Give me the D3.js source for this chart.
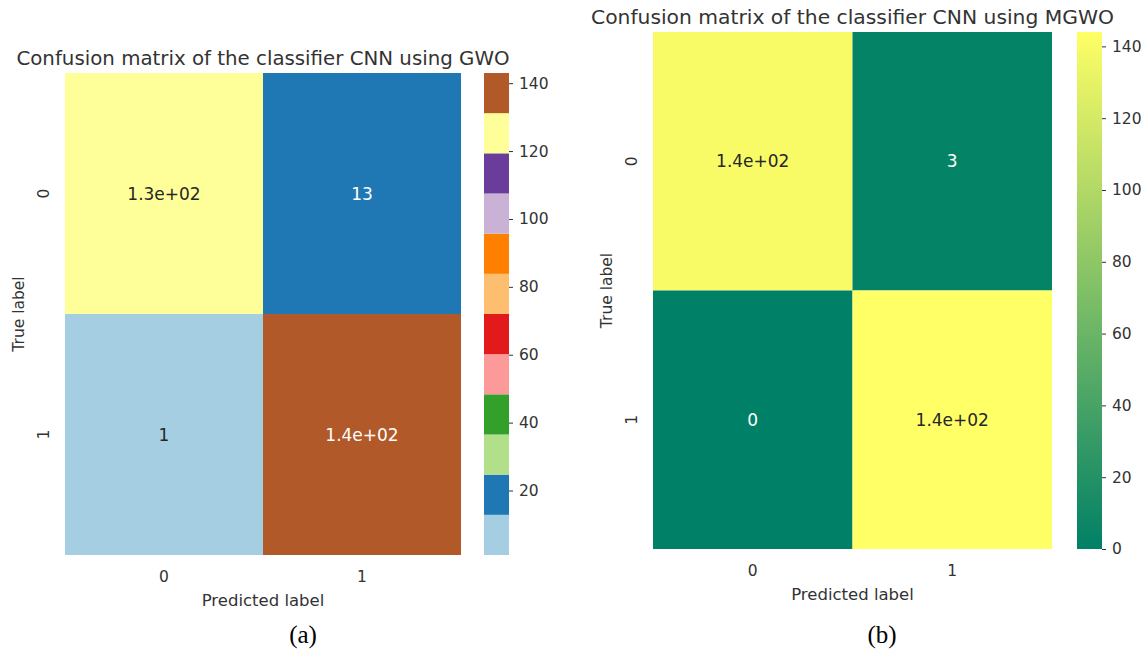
<!DOCTYPE html>
<html>
<head>
<meta charset="utf-8">
<script src="https://cdn.jsdelivr.net/npm/d3@7"></script>
<style>
  body { margin: 0; background: #fff; }
  text { font-family: "DejaVu Sans", sans-serif; fill: #333; }
</style>
</head>
<body>
<svg width="1148" height="651"></svg>
<script>
// class labels of both matrices
const classLabels = ["0", "1"];

// (a) CNN using GWO - rows = true label, cols = predicted label
const gwoRow0 = [130, 13];
const gwoRow1 = [1, 143];
const gwoTicks = [20, 40, 60, 80, 100, 120, 140];

// (b) CNN using MGWO
const mgwoRow0 = [140, 3];
const mgwoRow1 = [0, 144];
const mgwoTicks = [0, 20, 40, 60, 80, 100, 120, 140];

const titles = ["Confusion matrix of the classifier CNN using GWO",
                "Confusion matrix of the classifier CNN using MGWO"];
const captions = ["(a)", "(b)"];

const svg = d3.select("svg");

// seaborn style ".2g" annotation text
function fmt(v) {
  if (Math.abs(v) >= 100) {
    return d3.format(".1e")(v).replace(/e([+-])(\d)$/, "e$10$2");
  }
  return String(v);
}

// pick dark / white text like seaborn does
function textColor(bg) {
  const c = d3.rgb(bg);
  const lum = (0.299 * c.r + 0.587 * c.g + 0.114 * c.b) / 255;
  return lum > 0.5 ? "#262626" : "#ffffff";
}

function drawPanel(opt) {
  const g = svg.append("g");
  const cells = [];
  opt.rows.forEach((row, i) => row.forEach((v, j) => cells.push({ r: classLabels[i], c: classLabels[j], v: v })));

  const x = d3.scaleBand().domain(classLabels).range([opt.x0, opt.x1]);
  const y = d3.scaleBand().domain(classLabels).range([opt.y0, opt.y1]);

  g.selectAll("rect.cell").data(cells).enter()
    .append("rect").attr("class", "cell")
    .attr("x", d => x(d.c)).attr("y", d => y(d.r))
    .attr("width", x.bandwidth()).attr("height", y.bandwidth())
    .attr("fill", d => opt.color(d.v));

  g.selectAll("text.ann").data(cells).enter()
    .append("text").attr("class", "ann")
    .attr("x", d => x(d.c) + x.bandwidth() / 2)
    .attr("y", d => y(d.r) + y.bandwidth() / 2)
    .attr("text-anchor", "middle").attr("dominant-baseline", "central")
    .style("font-size", opt.afs + "px")
    .style("fill", d => textColor(opt.color(d.v)))
    .text(d => fmt(d.v));

  // x tick labels
  g.selectAll("text.xt").data(classLabels).enter()
    .append("text").attr("class", "xt")
    .attr("x", d => x(d) + x.bandwidth() / 2)
    .attr("y", opt.y1 + 27)
    .attr("text-anchor", "middle")
    .style("font-size", opt.fs + "px")
    .text(d => d);

  // y tick labels (rotated)
  g.selectAll("text.yt").data(classLabels).enter()
    .append("text").attr("class", "yt")
    .attr("transform", d => "translate(" + (opt.x0 - 16) + "," + (y(d) + y.bandwidth() / 2) + ") rotate(-90)")
    .attr("text-anchor", "middle")
    .style("font-size", opt.fs + "px")
    .text(d => d);

  g.append("text")
    .attr("x", (opt.x0 + opt.x1) / 2).attr("y", opt.y1 + 51)
    .attr("text-anchor", "middle")
    .style("font-size", opt.lfs + "px")
    .text("Predicted label");

  g.append("text")
    .attr("transform", "translate(" + (opt.x0 - 41) + "," + ((opt.y0 + opt.y1) / 2) + ") rotate(-90)")
    .attr("text-anchor", "middle")
    .style("font-size", opt.fs + "px")
    .text("True label");

  g.append("text")
    .attr("x", (opt.x0 + opt.x1) / 2).attr("y", opt.y0 - 8)
    .attr("text-anchor", "middle")
    .style("font-size", opt.tfs + "px")
    .text(opt.title);

  // colorbar
  const cb = d3.scaleLinear().domain(opt.color.domain()).range([opt.y1, opt.y0]);
  if (opt.discrete) {
    const bins = opt.color.range().map(c => {
      const ext = opt.color.invertExtent(c);
      return { c: c, lo: ext[0], hi: ext[1] };
    });
    g.selectAll("rect.cb").data(bins).enter()
      .append("rect").attr("class", "cb")
      .attr("x", opt.cbx).attr("width", opt.cbw)
      .attr("y", d => cb(d.hi)).attr("height", d => cb(d.lo) - cb(d.hi))
      .attr("fill", d => d.c);
  } else {
    const grad = svg.append("defs").append("linearGradient")
      .attr("id", "grad" + opt.id).attr("x1", 0).attr("y1", 1).attr("x2", 0).attr("y2", 0);
    grad.selectAll("stop").data(d3.range(0, 1.01, 0.1)).enter()
      .append("stop").attr("offset", d => d)
      .attr("stop-color", d => opt.color(opt.color.domain()[0] + d * (opt.color.domain()[1] - opt.color.domain()[0])));
    g.append("rect").attr("x", opt.cbx).attr("width", opt.cbw)
      .attr("y", opt.y0).attr("height", opt.y1 - opt.y0)
      .attr("fill", "url(#grad" + opt.id + ")");
  }

  const ax = g.append("g")
    .attr("transform", "translate(" + (opt.cbx + opt.cbw) + ",0)")
    .call(d3.axisRight(cb).tickValues(opt.ticks).tickSize(4).tickPadding(6));
  ax.select(".domain").remove();
  ax.selectAll(".tick line").attr("stroke", "#333");
  ax.selectAll(".tick text").style("font-size", opt.fs + "px").style("fill", "#333")
    .attr("font-family", null);

  svg.append("text")
    .attr("x", opt.capx).attr("y", 643)
    .attr("text-anchor", "middle")
    .style("font-family", "'Liberation Serif', serif")
    .style("font-size", "25px").style("fill", "#000")
    .text(opt.caption);
}

drawPanel({
  id: "a", rows: [gwoRow0, gwoRow1], ticks: gwoTicks,
  color: d3.scaleQuantize().domain([1, 143]).range(d3.schemePaired),
  discrete: true,
  x0: 65, x1: 461, y0: 73, y1: 555,
  cbx: 484, cbw: 25,
  fs: 15.5, afs: 17, lfs: 16.5, tfs: 19.8,
  title: titles[0], caption: captions[0], capx: 303
});

drawPanel({
  id: "b", rows: [mgwoRow0, mgwoRow1], ticks: mgwoTicks,
  color: d3.scaleLinear().domain([0, 144]).range(["#008066", "#ffff66"]),
  discrete: false,
  x0: 653, x1: 1052, y0: 32, y1: 549,
  cbx: 1077, cbw: 25,
  fs: 15.5, afs: 17, lfs: 16.5, tfs: 20.3,
  title: titles[1], caption: captions[1], capx: 882
});
</script>
</body>
</html>
